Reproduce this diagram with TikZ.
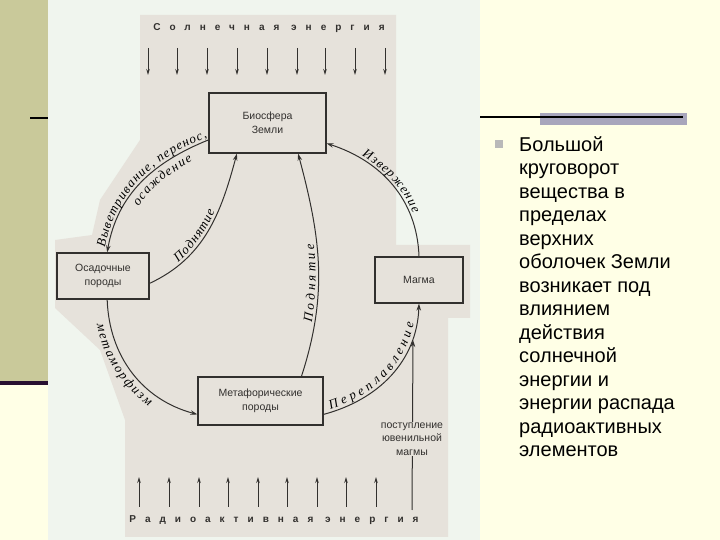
\documentclass[tikz,border=0pt]{standalone}
\usepackage{fontspec}
\setmainfont{Liberation Sans}
\newfontfamily\handfont{Liberation Serif}
\newfontfamily\spreadfont[LetterSpace=90]{Liberation Sans}
\usetikzlibrary{arrows.meta,decorations.text}

\definecolor{slidebg}{RGB}{255,255,230}
\definecolor{stripe}{RGB}{201,201,154}
\definecolor{scanbg}{RGB}{240,245,238}
\definecolor{paper}{RGB}{230,226,219}
\definecolor{ink}{RGB}{50,48,46}
\definecolor{barcol}{RGB}{168,166,188}
\definecolor{rulecol}{RGB}{40,16,48}

\tikzset{
  rock/.style={draw=ink, line width=1.2pt, fill=paper, inner sep=0pt, align=center,
    text=ink, font=\fontsize{10.5}{14.5}\selectfont},
  link/.style={draw=ink, line width=1pt},
  ray/.style={draw=ink, line width=1pt, -{Stealth[length=6pt,width=3.5pt]}},
  hand/.style n args={4}{postaction={decorate, decoration={text along path, raise=#1,
    text align={left indent=#2, right indent=#3, fit to path},
    text={|\handfont\itshape\fontsize{13}{13}\selectfont|#4}}}}
}

\begin{document}
\begin{tikzpicture}[x=1pt, y=1pt, >={Stealth[length=7pt,width=4.5pt]}]
  \useasboundingbox (0,0) rectangle (720,540);

  % slide
  \fill[slidebg] (0,0) rectangle (720,540);
  \fill[stripe] (0,159) rectangle (48,540);
  \fill[rulecol] (0,155) rectangle (48,159);
  \draw[black, line width=2pt] (30,422) -- (48,422);
  \fill[barcol] (540,415) rectangle (687,427);
  \draw[black, line width=2pt] (478,423) -- (683,423);

  % scanned page
  \fill[scanbg] (48,0) rectangle (480,540);
  \fill[paper] (140,525) -- (396,525) -- (396,295) -- (470,295) -- (470,222)
    -- (448,222) -- (448,3) -- (125,3) -- (125,120) -- (100,190) -- (55,232)
    -- (55,300) -- (92,305) -- (100,340) -- (140,400) -- cycle;

  % energy inflow
  \node[text=ink, font=\spreadfont\bfseries\fontsize{10}{12}\selectfont] (sun) at (269,512) {Солнечная энергия};
  \foreach \x [count=\i] in {148,177,207,237,267,297,325,355,385} {
    \coordinate (suna\i) at (\x,492);
    \coordinate (sunb\i) at (\x,465);
    \draw[ray] (suna\i) -- (sunb\i);
  }
  \node[text=ink, font=\spreadfont\bfseries\fontsize{10}{12}\selectfont] (radio) at (274,20) {Радиоактивная энергия};
  \foreach \x [count=\i] in {139,169,199,228,258,287,317,346,376} {
    \coordinate (rada\i) at (\x,33);
    \coordinate (radb\i) at (\x,63);
    \draw[ray] (rada\i) -- (radb\i);
  }

  % reservoirs
  \node[rock, minimum width=117pt, minimum height=60pt] (bio) at (267.5,417) {Биосфера\\Земли};
  \node[rock, minimum width=92pt, minimum height=46pt] (osad) at (103,264) {Осадочные\\породы};
  \node[rock, minimum width=88pt, minimum height=46pt] (magma) at (419,260) {Магма};
  \node[rock, minimum width=125pt, minimum height=48pt] (meta) at (260.5,139) {Метафорические\\породы};

  % cycle
  \draw[link, <-, hand={3pt}{4pt}{0pt}{Выветривание, перенос,}, hand={-13pt}{58pt}{24pt}{осаждение}]
    (osad.80) to[out=80, in=202] (bio.196);
  \draw[link, ->, hand={3pt}{36pt}{62pt}{Поднятие}]
    (osad.-9) to[out=25, in=255] (bio.225);
  \draw[link, ->, hand={3pt}{55pt}{92pt}{Поднятие}]
    (meta.31) to[out=72, in=-75] (bio.315);
  \draw[link, <-, hand={3pt}{37pt}{43pt}{Извержение}]
    (bio.341) to[out=-18, in=92] (magma.north);
  \draw[link, ->, hand={-13pt}{22pt}{45pt}{метаморфизм}]
    (osad.-80) to[out=-88, in=165] (meta.192);
  \draw[link, ->, hand={3pt}{8pt}{20pt}{Переплавление}]
    (meta.348) to[out=15, in=-92] (magma.south);

  % juvenile magma
  \coordinate (juvlow) at (412,30);
  \coordinate (juvtop) at (413,200);
  \draw[link, ->] (juvlow) -- (juvtop);
  \node[fill=paper, text=ink, inner sep=1pt, align=center, font=\fontsize{10.5}{13.5}\selectfont] (juv) at (412,101) {поступление\\ювенильной\\магмы};

  % bullet
  \fill[gray!55] (495,392) rectangle (503,400);
  \node[anchor=base west, align=left, inner sep=0pt, font=\fontsize{20}{23.5}\selectfont] (note) at (519,83)
    {Большой\\круговорот\\вещества в\\пределах\\верхних\\оболочек Земли\\возникает под\\влиянием\\действия\\солнечной\\энергии и\\энергии распада\\радиоактивных\\элементов};
\end{tikzpicture}
\end{document}
